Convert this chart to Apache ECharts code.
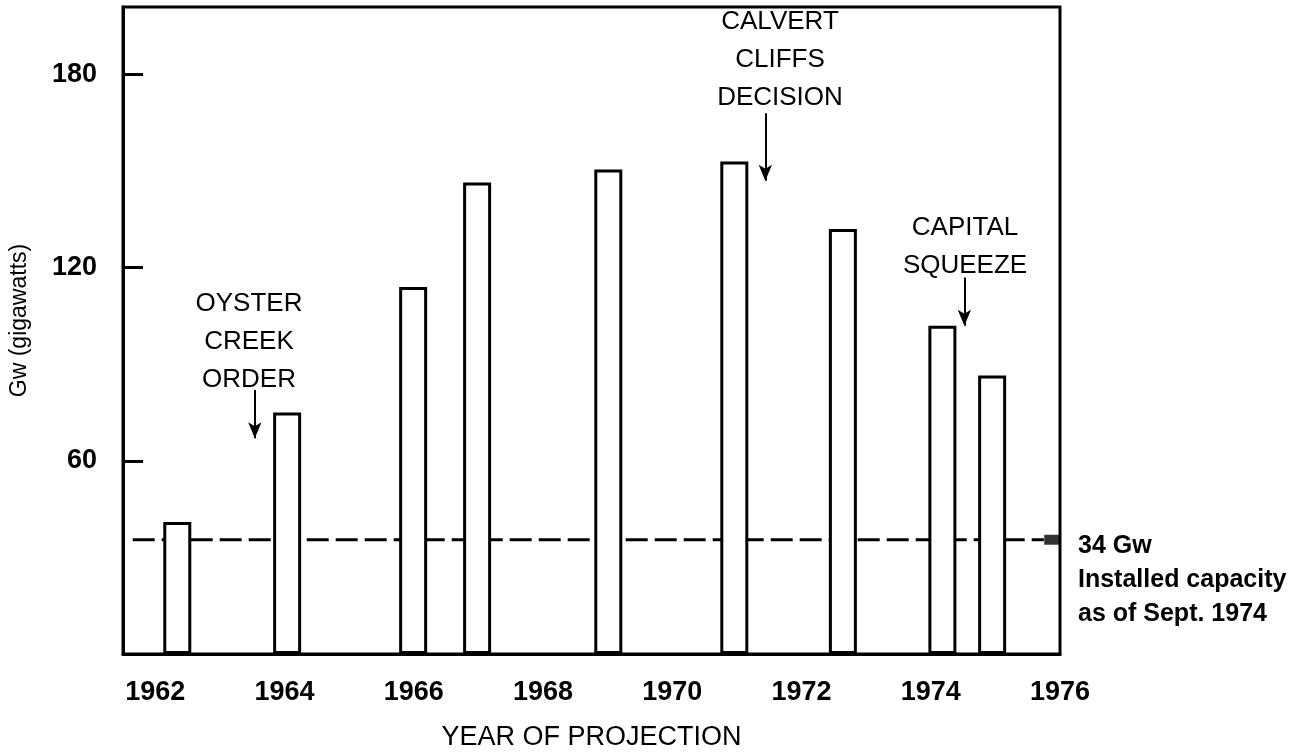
<!DOCTYPE html>
<html><head><meta charset="utf-8">
<script src="https://cdn.jsdelivr.net/npm/echarts@6/dist/echarts.min.js"></script>
<style>html,body{margin:0;padding:0;background:#fff}#c{width:1303px;height:756px}</style>
</head><body><div id="c"></div>
<script>
// ---- data ----
const projectionYears = [1962.34, 1964.04, 1965.99, 1966.98, 1969.01, 1970.96, 1972.64, 1974.18, 1974.95];
const projectedGw    = [41, 75, 114, 146.5, 150.5, 153, 132, 102, 86.5];
const xTickYears = [1962, 1964, 1966, 1968, 1970, 1972, 1974, 1976];
const yTickValues = [60, 120, 180];
const installedGw = 35.5;
const installedLineYears = [1961.65, 1975.75];
const installedMarkerYear = 1975.88;
const arrowYears  = [1963.54, 1971.44, 1974.52];
const arrowFromGw = [82, 168, 117];
const arrowToGw   = [67, 147, 102];
const annotationTexts = ['OYSTER\nCREEK\nORDER', 'CALVERT\nCLIFFS\nDECISION', 'CAPITAL\nSQUEEZE'];
const capacityNote = ['34 Gw', 'Installed capacity', 'as of Sept. 1974'];

const FONT = '"Liberation Sans", Arial, Helvetica, sans-serif';
const chart = echarts.init(document.getElementById('c'), null, {renderer: 'canvas'});

const barData = projectionYears.map((y, i) => [y, projectedGw[i]]);
const arrows = arrowYears.map((y, i) => [{coord: [y, arrowFromGw[i]]}, {coord: [y, arrowToGw[i]]}]);

const annPos = [
  {x: 249, y: 342}, {x: 780, y: 60}, {x: 965, y: 247}
];

chart.setOption({
  animation: false,
  backgroundColor: '#fff',
  grid: {left: 123, right: 243, top: 7, bottom: 101, show: true, borderColor: '#000', borderWidth: 3, containLabel: false},
  xAxis: {
    type: 'value', min: 1961.5, max: 1976,
    splitLine: {show: false},
    axisLine: {show: true, onZero: false, lineStyle: {color: '#000', width: 3}},
    axisTick: {show: false},
    axisLabel: {customValues: xTickYears, color: '#000', fontFamily: FONT, fontWeight: 'bold', fontSize: 27, margin: 25, formatter: v => String(v)},
    name: 'YEAR OF PROJECTION', nameLocation: 'middle', nameGap: 70,
    nameTextStyle: {color: '#000', fontFamily: FONT, fontSize: 27}
  },
  yAxis: {
    type: 'value', min: 0, max: 201, interval: 60,
    splitLine: {show: false},
    axisLine: {show: true, lineStyle: {color: '#000', width: 3}},
    axisTick: {show: true, inside: true, length: 20, lineStyle: {color: '#000', width: 3}, customValues: yTickValues},
    axisLabel: {customValues: yTickValues, color: '#000', fontFamily: FONT, fontWeight: 'bold', fontSize: 27, margin: 26},
    name: 'Gw (gigawatts)', nameLocation: 'middle', nameGap: 92, nameRotate: 90,
    nameTextStyle: {color: '#000', fontFamily: FONT, fontSize: 23, padding: [0, 0, 0, 20]}
  },
  series: [
    {
      type: 'line', z: 1, silent: true, symbol: 'none',
      data: installedLineYears.map(y => [y, installedGw]),
      lineStyle: {color: '#000', width: 3, type: [22, 7]}
    },
    {
      type: 'scatter', z: 3, silent: true, symbol: 'rect', symbolSize: [16, 10],
      data: [[installedMarkerYear, installedGw]], itemStyle: {color: '#000'}
    },
    {
      type: 'bar', z: 2, barWidth: 28, data: barData,
      itemStyle: {color: '#fff', borderColor: '#000', borderWidth: 3},
      markLine: {
        silent: true, symbol: ['none', 'arrow'], symbolSize: [10, 16],
        lineStyle: {color: '#000', width: 2, type: 'solid'}, label: {show: false},
        data: arrows
      }
    }
  ],
  graphic: annotationTexts.map((t, i) => ({
    type: 'text', x: annPos[i].x, y: annPos[i].y, z: 10,
    style: {text: t, fill: '#000', font: '26px ' + FONT, align: 'center', verticalAlign: 'middle', lineHeight: 38}
  })).concat([{
    type: 'text', x: 1078, y: 545, z: 10,
    style: {text: capacityNote.join('\n'), fill: '#000', font: 'bold 25px ' + FONT, align: 'left', verticalAlign: 'top', lineHeight: 34, y: -16}
  }])
});
</script></body></html>
